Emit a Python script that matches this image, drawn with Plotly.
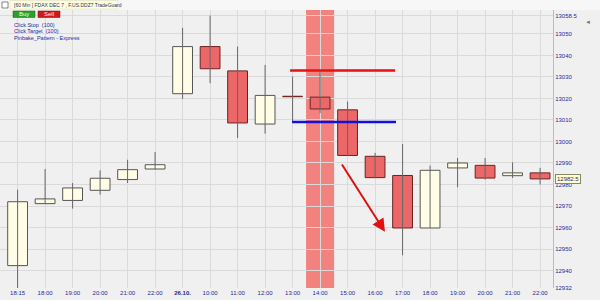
import plotly.graph_objects as go

# ---- data ----
labels = ["18:15", "18:00", "19:00", "20:00", "21:00", "22:00", "<b>26.10.</b>", "10:00", "11:00", "12:00",
          "13:00", "14:00", "15:00", "16:00", "17:00", "18:00", "19:00", "20:00", "21:00", "22:00"]
opens = [12942.3, 12971.1, 12972.6, 12977.3, 12982.3, 12987.2, 13022.2, 13044.1, 13032.8, 13008.1,
         13021.0, 13020.6, 13014.7, 12993.1, 12984.2, 12959.8, 12987.7, 12988.9, 12984.1, 12985.4]
closes = [12972.0, 12973.3, 12978.4, 12982.9, 12986.9, 12989.2, 13044.1, 13033.8, 13008.6, 13021.4,
          13020.8, 13015.1, 12993.5, 12983.2, 12959.8, 12986.6, 12990.0, 12983.0, 12985.4, 12982.6]
highs = [12977.6, 12987.2, 12980.7, 12986.6, 12991.5, 12995.1, 13052.8, 13058.5, 13044.1, 13035.6,
         13030.2, 13032.5, 13018.6, 12994.7, 12998.8, 12988.8, 12992.3, 12992.3, 12990.3, 12987.7]
lows = [12931.0, 12970.9, 12968.8, 12975.3, 12980.7, 12987.0, 13019.8, 13027.1, 13001.6, 13003.6,
        13009.3, 13013.2, 12993.3, 12983.0, 12947.1, 12959.8, 12978.7, 12982.3, 12983.0, 12980.0]
stop_level = 13033.0
target_level = 13009.0
highlight_index = 11
last_price = 12982.5
ytick_vals = [12932.1, 12940, 12950, 12960, 12970, 12980, 12990, 13000, 13010, 13020, 13030, 13040, 13050, 13058.5]
ytick_text = ["12932", "12940", "12950", "12960", "12970", "12980", "12990", "13000", "13010", "13020",
              "13030", "13040", "13050", "13058.5"]

idx = list(range(len(labels)))
NAVY = "#1a2a9a"
UP_FILL, UP_LINE = "#fffde6", "#555555"
DN_FILL, DN_LINE = "#ec6868", "#6e2020"

fig = go.Figure()

# wicks
wx, wy = [], []
for i in idx:
    wx += [i, i, None]
    wy += [lows[i], highs[i], None]
fig.add_trace(go.Scatter(x=wx, y=wy, mode="lines", line=dict(color="#666666", width=1),
                         hoverinfo="skip", showlegend=False, cliponaxis=False))

# bodies
base = [min(o, c) for o, c in zip(opens, closes)]
height = [max(abs(c - o), 0.15) for o, c in zip(opens, closes)]
fills = [UP_FILL if c >= o else DN_FILL for o, c in zip(opens, closes)]
lines = [UP_LINE if c >= o else DN_LINE for o, c in zip(opens, closes)]
fig.add_trace(go.Bar(x=idx, y=height, base=base, width=0.72,
                     marker=dict(color=fills, line=dict(color=lines, width=1)),
                     showlegend=False, hoverinfo="skip"))

# highlight band
fig.add_shape(type="rect", xref="x", yref="paper", x0=highlight_index - 0.51, x1=highlight_index + 0.51,
              y0=0, y1=1.0, fillcolor="rgba(242,110,105,0.85)", line_width=0, layer="below")

# stop / target lines
fig.add_shape(type="line", xref="x", yref="y", x0=9.91, x1=13.73, y0=stop_level, y1=stop_level,
              line=dict(color="#e81010", width=2.5))
fig.add_shape(type="line", xref="x", yref="y", x0=9.98, x1=13.76, y0=target_level, y1=target_level,
              line=dict(color="#1010e0", width=2.5))

# arrow
fig.add_annotation(x=13.36, y=12958, ax=11.76, ay=12990, xref="x", yref="y", axref="x", ayref="y",
                   showarrow=True, arrowhead=2, arrowsize=1.3, arrowwidth=2, arrowcolor="#e01010", text="")

# last price box
fig.add_annotation(x=1.003, y=last_price, xref="paper", yref="y", xanchor="left", yanchor="middle",
                   text=f"{last_price}", showarrow=False, font=dict(size=6, color=NAVY, family="Arial"),
                   bgcolor="#ffffc8", bordercolor="#888866", borderwidth=1, borderpad=1)

# header elements (pixel -> paper helper)
PL, PR, PT, PB = 0, 553, 10, 288
def px(xp):
    return (xp - PL) / (PR - PL)
def py(yp):
    return (PB - yp) / (PB - PT)

fig.add_shape(type="rect", xref="paper", yref="paper", x0=px(0), x1=px(600), y0=py(0), y1=py(10),
              fillcolor="#f7f7f7", line_width=0)
fig.add_shape(type="rect", xref="paper", yref="paper", x0=px(10), x1=px(118), y0=py(0.5), y1=py(9),
              fillcolor="#ffffe0", line=dict(color="#d8d8b0", width=0.5))
fig.add_annotation(x=px(12), y=py(4.8), xref="paper", yref="paper", xanchor="left", yanchor="middle",
                   text="[60 Min ] FDAX DEC 7 , F.US.DDZ7 TradeGuard", showarrow=False,
                   font=dict(size=5, color="#303060", family="Arial"))
fig.add_shape(type="rect", xref="paper", yref="paper", x0=px(2), x1=px(8), y0=py(2), y1=py(8),
              fillcolor="white", line=dict(color="#555555", width=0.7))
fig.add_shape(type="rect", xref="paper", yref="paper", x0=px(13), x1=px(35), y0=py(11), y1=py(17.5),
              fillcolor="#2aa02a", line=dict(color="#1a601a", width=0.5))
fig.add_shape(type="rect", xref="paper", yref="paper", x0=px(38), x1=px(60), y0=py(11), y1=py(17.5),
              fillcolor="#d01818", line=dict(color="#701010", width=0.5))
fig.add_annotation(x=px(24), y=py(14.2), xref="paper", yref="paper", xanchor="center", yanchor="middle",
                   text="Buy", showarrow=False, font=dict(size=6, color="#e8ffe8", family="Arial"))
fig.add_annotation(x=px(49), y=py(14.2), xref="paper", yref="paper", xanchor="center", yanchor="middle",
                   text="Sell", showarrow=False, font=dict(size=6, color="#ffe8e8", family="Arial"))
for t, yy in [("Click Stop  (100)", 25), ("Click Target  (100)", 31.5), ("Pinbake_Pattern - Express", 38)]:
    fig.add_annotation(x=px(12), y=py(yy), xref="paper", yref="paper", xanchor="left", yanchor="middle",
                       text=t, showarrow=False, font=dict(size=5.5, color=NAVY, family="Arial"))
fig.add_annotation(x=px(593), y=py(16), xref="paper", yref="paper", text="◄", showarrow=False,
                   font=dict(size=6, color="#777777"))

fig.update_layout(
    width=600, height=300,
    margin=dict(l=PL, r=600 - PR, t=PT, b=300 - PB),
    paper_bgcolor="#f0f0f0", plot_bgcolor="#f0f0f0",
    barmode="overlay", showlegend=False,
    xaxis=dict(range=[-0.64, 19.47], tickmode="array", tickvals=idx, ticktext=labels,
               showgrid=True, gridcolor="#dadada", gridwidth=1, zeroline=False,
               tickfont=dict(size=6, color=NAVY, family="Arial"), ticks="", fixedrange=True,
               showline=False),
    yaxis=dict(range=[12931.9, 13061.1], side="right", tickmode="array", tickvals=ytick_vals,
               ticktext=ytick_text, showgrid=True, gridcolor="#dadada", gridwidth=1, zeroline=False,
               tickfont=dict(size=6, color=NAVY, family="Arial"), ticks="",
               showline=True, linecolor="#bbbbbb", linewidth=1),
)

fig.write_html("out.html")
